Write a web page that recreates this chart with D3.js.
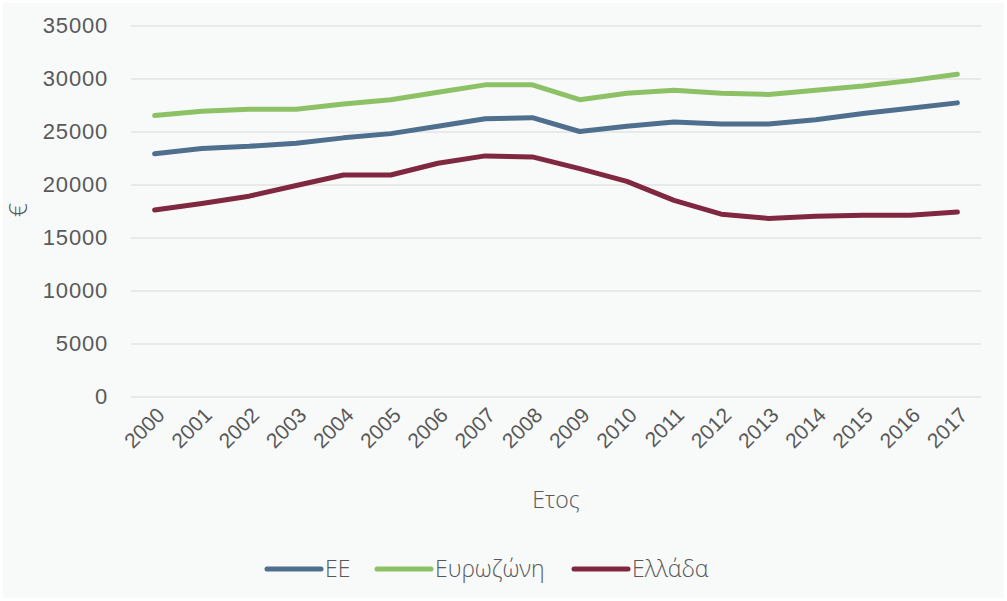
<!DOCTYPE html>
<html>
<head>
<meta charset="utf-8">
<script src="https://cdn.jsdelivr.net/npm/d3@7"></script>
<style>
  html, body { margin: 0; padding: 0; background: #ffffff; }
  svg { display: block; font-family: "Open Sans", "Noto Sans", sans-serif; }
</style>
</head>
<body>
<svg id="chart" width="1007" height="601"></svg>
<script>
// Years on the horizontal axis
const years = ["2000","2001","2002","2003","2004","2005","2006","2007","2008",
               "2009","2010","2011","2012","2013","2014","2015","2016","2017"];

// Per-capita values (€) for each series
const euValues = [22900, 23400, 23600, 23900, 24400, 24800, 25500, 26200, 26300,
                  25000, 25500, 25900, 25700, 25700, 26100, 26700, 27200, 27700];
const eurozoneValues = [26500, 26900, 27100, 27100, 27600, 28000, 28700, 29400, 29400,
                        28000, 28600, 28900, 28600, 28500, 28900, 29300, 29800, 30400];
const greeceValues = [17600, 18200, 18900, 19900, 20900, 20900, 22000, 22700, 22600,
                      21500, 20300, 18500, 17200, 16800, 17000, 17100, 17100, 17400];

const seriesNames = ["ΕΕ", "Ευρωζώνη", "Ελλάδα"];
const seriesColors = ["#4f6f8f", "#8cc265", "#80283f"];
const yTicks = [0, 5000, 10000, 15000, 20000, 25000, 30000, 35000];

const series = [
  { name: seriesNames[0], color: seriesColors[0], values: euValues },
  { name: seriesNames[1], color: seriesColors[1], values: eurozoneValues },
  { name: seriesNames[2], color: seriesColors[2], values: greeceValues }
];

const svg = d3.select("#chart");
const W = 1007, H = 601;
const textColor = "#595959";

// Panel background
svg.append("rect")
  .attr("x", 3).attr("y", 3)
  .attr("width", W - 6).attr("height", H - 6)
  .attr("fill", "#f8fafa");

const plot = { left: 131, right: 981, top: 25.5, bottom: 396.5 };

const x = d3.scalePoint()
  .domain(years)
  .range([plot.left, plot.right])
  .padding(0.5);

const y = d3.scaleLinear()
  .domain([0, 35000])
  .range([plot.bottom, plot.top]);

// Horizontal gridlines and value labels
const yAxis = d3.axisLeft(y)
  .tickValues(yTicks)
  .tickSize(-(plot.right - plot.left))
  .tickPadding(23)
  .tickFormat(d3.format("d"));

const gy = svg.append("g")
  .attr("transform", `translate(${plot.left},0)`)
  .call(yAxis);
gy.select(".domain").remove();
gy.selectAll(".tick line")
  .attr("stroke", "#e3e4e4")
  .attr("stroke-width", 1.5);
gy.selectAll(".tick text")
  .attr("fill", textColor)
  .attr("font-size", 22)
  .attr("font-weight", 300)
  .attr("letter-spacing", 0.8);

// Year labels, rotated
const xAxis = d3.axisBottom(x).tickSize(0).tickPadding(0);
const gx = svg.append("g")
  .attr("transform", `translate(0,${plot.bottom})`)
  .call(xAxis);
gx.select(".domain").remove();
gx.selectAll(".tick text")
  .attr("fill", textColor)
  .attr("font-size", 21)
  .attr("font-weight", 300)
  .attr("text-anchor", "end")
  .attr("dy", null)
  .attr("transform", "translate(7,16) rotate(-45)")
  .attr("dominant-baseline", "middle");

// Axis titles
svg.append("text")
  .attr("x", (plot.left + plot.right) / 2)
  .attr("y", 508)
  .attr("text-anchor", "middle")
  .attr("fill", textColor)
  .attr("font-size", 23)
  .attr("font-weight", 300)
  .text("Ετος");

svg.append("text")
  .attr("transform", "translate(27,210) rotate(-90)")
  .attr("text-anchor", "middle")
  .attr("fill", textColor)
  .attr("font-size", 25)
  .attr("font-weight", 300)
  .text("€");

// Series lines
const line = d3.line()
  .x((d, i) => x(years[i]))
  .y(d => y(d));

svg.append("g")
  .selectAll("path")
  .data(series)
  .join("path")
  .attr("d", d => line(d.values))
  .attr("fill", "none")
  .attr("stroke", d => d.color)
  .attr("stroke-width", 5)
  .attr("stroke-linecap", "round")
  .attr("stroke-linejoin", "round");

// Legend
const legendX = [267, 377, 574];
const legend = svg.append("g").attr("transform", "translate(0,569)");
const items = legend.selectAll("g")
  .data(series)
  .join("g")
  .attr("transform", (d, i) => `translate(${legendX[i]},0)`);
items.append("line")
  .attr("x1", 0).attr("x2", 54)
  .attr("y1", 0).attr("y2", 0)
  .attr("stroke", d => d.color)
  .attr("stroke-width", 5)
  .attr("stroke-linecap", "round");
items.append("text")
  .attr("x", 58)
  .attr("y", 0)
  .attr("dy", "0.35em")
  .attr("fill", textColor)
  .attr("font-size", 23)
  .attr("font-weight", 300)
  .text(d => d.name);
</script>
</body>
</html>
